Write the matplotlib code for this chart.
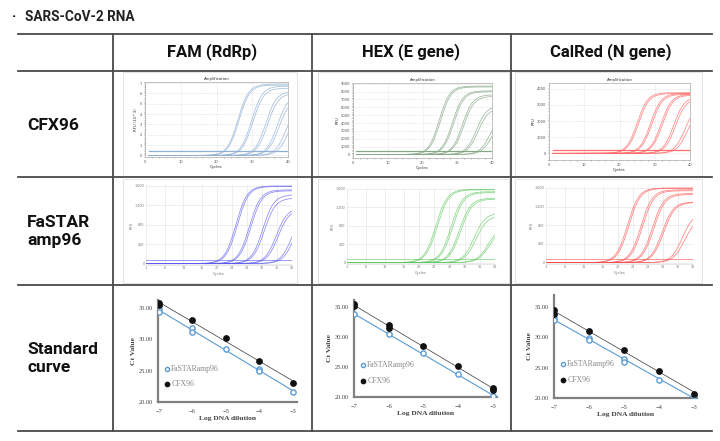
import numpy as np
import matplotlib.pyplot as plt
from matplotlib.lines import Line2D
from matplotlib.patches import Rectangle

W, H = 720, 441

# --- amplification curves: read Ct midpoints and plateau heights ---
cfx_fam_mid = [26.0, 26.3, 29.8, 30.2, 33.8, 34.3, 37.0, 37.5, 39.5, 40.2]
cfx_fam_top = [6.9, 6.8, 6.7, 6.5, 6.2, 6.0, 5.8, 5.5, 5.0, 4.6]
cfx_hex_mid = [24.8, 25.2, 28.6, 29.0, 31.5, 31.9, 35.5, 36.0, 39.4, 40.0]
cfx_hex_top = [8700, 8600, 8100, 8000, 7600, 7400, 6200, 5900, 5000, 4600]
cfx_red_mid = [25.0, 25.4, 28.8, 29.2, 31.8, 32.2, 35.4, 35.9, 38.6, 39.3]
cfx_red_top = [3750, 3700, 3700, 3650, 3650, 3600, 3500, 3400, 3000, 2800]

fs_fam_mid = [25.0, 25.4, 28.6, 29.0, 32.2, 32.6, 35.8, 36.3, 40.0, 40.6]
fs_fam_top = [1600, 1590, 1520, 1500, 1420, 1350, 1150, 1120, 1100, 1060]
fs_hex_mid = [24.4, 24.8, 28.4, 28.8, 30.6, 31.0, 34.5, 35.0, 38.2, 38.6]
fs_hex_top = [1590, 1580, 1540, 1520, 1400, 1380, 1080, 1020, 790, 760]
fs_red_mid = [22.6, 23.0, 26.2, 26.6, 29.2, 29.6, 31.8, 32.2, 37.2, 37.7]
fs_red_top = [1600, 1590, 1560, 1540, 1480, 1460, 1300, 1290, 1070, 940]

# --- standard curves ---
dil_fam_fs = [-7, -7, -6, -6, -5, -4, -4, -3]
ct_fam_fs = [34.8, 34.4, 31.8, 31.2, 28.5, 25.2, 25.0, 21.6]
dil_fam_cfx = [-7, -7, -6, -5, -4, -3]
ct_fam_cfx = [35.9, 35.5, 33.1, 30.2, 26.6, 23.0]

dil_hex_fs = [-7, -6, -5, -4, -3]
ct_hex_fs = [33.7, 30.4, 27.3, 23.8, 20.1]
dil_hex_cfx = [-7, -7, -6, -6, -5, -4, -3, -3]
ct_hex_cfx = [35.4, 35.1, 31.9, 31.5, 28.5, 25.1, 21.5, 21.2]

dil_red_fs = [-7, -7, -6, -6, -5, -5, -4, -3]
ct_red_fs = [33.2, 32.8, 29.9, 29.6, 26.5, 25.9, 23.0, 20.3]
dil_red_cfx = [-7, -7, -6, -5, -4, -3]
ct_red_cfx = [34.6, 33.9, 31.0, 28.0, 24.5, 20.7]

col_labels = ["FAM (RdRp)", "HEX (E gene)", "CalRed (N gene)"]
row_labels = ["CFX96", "FaSTAR\namp96", "Standard\ncurve"]

HEAD = "Roboto"
SERIF = "Liberation Serif"


def px(x0, y0, x1, y1):
    return [x0 / W, 1 - y1 / H, (x1 - x0) / W, (y1 - y0) / H]


def logistic(x, mid, top, slope=1.5):
    return top / (1 + np.exp(-(x - mid) / slope))


def cfx_panel(box, mids, tops, color, thresh, yticks, ylim, ylabel):
    ax = fig.add_axes(px(*box))
    xs = np.linspace(1, 40, 200)
    for m, t in zip(mids, tops):
        ax.plot(xs, logistic(xs, m, t), color=color, lw=0.55, alpha=0.8)
    ax.plot([1, 40], [thresh, thresh], color=color, lw=0.9)
    ax.set_xlim(0, 40)
    ax.set_ylim(*ylim)
    ax.set_xticks([0, 10, 20, 30, 40])
    ax.set_yticks(yticks)
    ax.grid(True, color="#c8c8c8", lw=0.4, ls=":")
    ax.minorticks_on()
    ax.tick_params(labelsize=2.6, length=1, width=0.3, pad=1, colors="#555")
    ax.tick_params(which="minor", length=0.6, width=0.3)
    for s in ax.spines.values():
        s.set_color("#aaaaaa")
        s.set_linewidth(0.5)
    ax.set_title("Amplification", fontsize=2.8, pad=1.5, color="#333")
    ax.set_xlabel("Cycles", fontsize=2.8, labelpad=1, color="#333")
    ax.set_ylabel(ylabel, fontsize=2.8, labelpad=1, color="#333")
    return ax


def fs_panel(box, mids, tops, color, thresh):
    ax = fig.add_axes(px(*box))
    xs = np.linspace(1, 40, 200)
    for m, t in zip(mids, tops):
        ax.plot(xs, logistic(xs, m, t), color=color, lw=0.55, alpha=0.7)
    ax.plot([1, 40], [thresh, thresh], color=color, lw=0.6, alpha=0.7)
    ax.set_xlim(1, 40)
    ax.set_ylim(-30, 1620)
    ax.set_xticks([1, 6, 11, 16, 20, 24, 28, 32, 36, 40])
    ax.set_yticks([0, 400, 800, 1200, 1600])
    ax.set_yticklabels(["0", "400", "800", "1,200", "1,600"])
    ax.grid(True, color="#e6e6e6", lw=0.5)
    ax.tick_params(labelsize=2.4, length=0, pad=1, colors="#777")
    for k, s in ax.spines.items():
        s.set_visible(k == "bottom")
        s.set_color("#dddddd")
        s.set_linewidth(0.5)
    ax.set_xlabel("Cycles", fontsize=2.6, labelpad=1, color="#777")
    ax.set_ylabel("RFU", fontsize=2.6, labelpad=1, color="#777")
    return ax


def std_panel(box, xlim, ylim, xf, yf, xc, yc):
    ax = fig.add_axes(px(*box))
    line_x = np.array([-7, -3])
    pf = np.polyfit(xf, yf, 1)
    pc = np.polyfit(xc, yc, 1)
    ax.plot(line_x, np.polyval(pf, line_x), color="#5b9bd5", lw=0.8)
    ax.plot(line_x, np.polyval(pc, line_x), color="#333333", lw=0.5)
    h1 = ax.scatter(xf, yf, s=14, facecolor="white", edgecolor="#5b9bd5",
                    linewidth=1.0, zorder=3)
    h2 = ax.scatter(xc, yc, s=15, color="#111111", zorder=4)
    ax.set_xlim(*xlim)
    ax.set_ylim(*ylim)
    ax.set_xticks([-7, -6, -5, -4, -3])
    ax.set_yticks([20, 25, 30, 35])
    ax.set_yticklabels(["%.2f" % v for v in [20, 25, 30, 35]])
    ax.tick_params(length=0, labelsize=4.6, colors="#444")
    ax.tick_params(axis="x", pad=5)
    ax.tick_params(axis="y", pad=3.5)
    for lab in ax.get_xticklabels() + ax.get_yticklabels():
        lab.set_family(SERIF)
    for k in ["top", "right"]:
        ax.spines[k].set_visible(False)
    for k in ["left", "bottom"]:
        ax.spines[k].set_color("#808080")
        ax.spines[k].set_linewidth(1.6)
    ax.set_xlabel("Log DNA dilution", family=SERIF, fontsize=5.4,
                  labelpad=1.5, color="#444", fontweight="bold")
    ax.set_ylabel("Ct Value", family=SERIF, fontsize=5.4, labelpad=2,
                  color="#444", fontweight="bold")
    ax.legend([h1, h2], ["FaSTARamp96", "CFX96"], loc="center left",
              bbox_to_anchor=(0.0, 0.25), frameon=False, handletextpad=0.0,
              labelspacing=1.0, borderpad=0, handlelength=1.2,
              prop={"family": SERIF, "size": 5.6}, labelcolor="#888888",
              markerscale=0.8)
    return ax


fig = plt.figure(figsize=(7.2, 4.41), dpi=100)

# title
fig.text(12 / W, 1 - 17 / H, "\u00b7", fontsize=10, fontweight="bold",
         family=HEAD, va="center")
fig.text(25 / W, 1 - 17 / H, "SARS-CoV-2 RNA", fontsize=9.8,
         fontweight="bold", family=HEAD, va="center", color="#222")

# table grid
line_kw = dict(color="#4a4a4a", lw=1.3, transform=fig.transFigure)
for yy in [34, 71, 177, 285, 431]:
    fig.add_artist(Line2D([18 / W, 712 / W], [1 - yy / H] * 2, **line_kw))
for xx in [113, 312, 511]:
    fig.add_artist(Line2D([xx / W] * 2, [1 - 34 / H, 1 - 431 / H], **line_kw))

col_x = [212, 411, 611]
for cx, lab in zip(col_x, col_labels):
    fig.text(cx / W, 1 - 52 / H, lab, ha="center", va="center",
             fontsize=12, fontweight="bold", family=HEAD, color="#111")
for ry, lab in zip([125, 232, 358], row_labels):
    fig.text(27 / W, 1 - ry / H, lab, ha="left", va="center",
             fontsize=12.5, fontweight="bold", family=HEAD, color="#111",
             linespacing=1.25)

# faint screenshot frames
for x0, x1 in [(123, 297), (318, 509), (515, 702)]:
    for y0, y1 in [(72, 176), (179, 283)]:
        fig.add_artist(Rectangle((x0 / W, 1 - y1 / H), (x1 - x0) / W,
                                 (y1 - y0) / H, transform=fig.transFigure,
                                 fill=False, ec="#dedede", lw=0.6))

# row 1: CFX96
cfx_panel((145, 82, 288, 157), cfx_fam_mid, cfx_fam_top, "#8fb0d3", 0.45,
          range(0, 8), (-0.15, 7.1), "RFU (10^3)")
cfx_panel((353, 83, 492, 158), cfx_hex_mid, cfx_hex_top, "#86a886", 420,
          range(0, 9001, 1000), (-450, 9100), "RFU")
cfx_panel((549, 83, 690, 160), cfx_red_mid, cfx_red_top, "#ff6b6b", 200,
          range(0, 4001, 1000), (-410, 4350), "RFU")

# row 2: FaSTAR amp96
fs_panel((146, 185, 292, 265), fs_fam_mid, fs_fam_top, "#5a5af0", 80)
fs_panel((347, 188, 495, 264), fs_hex_mid, fs_hex_top, "#5cc95c", 80)
fs_panel((546, 187, 693, 264), fs_red_mid, fs_red_top, "#ff4d4d", 80)

# row 3: standard curves
std_panel((158, 300, 297, 402), (-7.03, -2.87), (20, 36.3),
          dil_fam_fs, ct_fam_fs, dil_fam_cfx, ct_fam_cfx)
std_panel((354, 300, 497, 397), (-7.0, -2.88), (20, 36.1),
          dil_hex_fs, ct_hex_fs, dil_hex_cfx, ct_hex_cfx)
std_panel((554, 295, 697, 398), (-7.0, -2.91), (20, 37.0),
          dil_red_fs, ct_red_fs, dil_red_cfx, ct_red_cfx)

fig.savefig("out.png", dpi=100)
